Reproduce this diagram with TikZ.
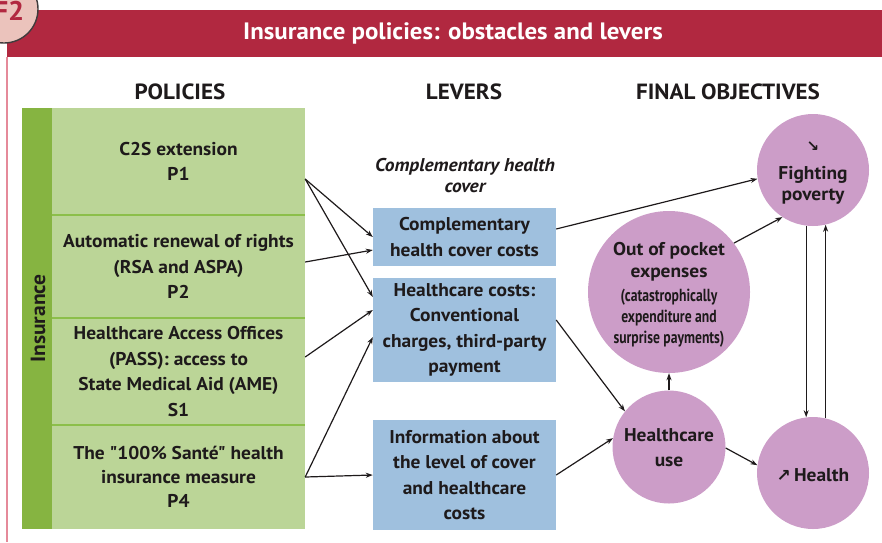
\documentclass[tikz,border=0pt]{standalone}
\usepackage{fontspec}
\setmainfont{PT Sans}[FakeStretch=1.05, Ligatures=TeXOff]
\newfontfamily\symfont{DejaVu Sans}
\newfontfamily\narrowfont{PT Sans}[FakeStretch=0.78, Ligatures=TeXOff]
\usetikzlibrary{arrows.meta,calc}

\definecolor{crimson}{HTML}{B12840}
\definecolor{badgepink}{HTML}{EBC3BC}
\definecolor{edgepink}{HTML}{E58A9A}
\definecolor{darkgreen}{HTML}{86B441}
\definecolor{lightgreen}{HTML}{BBD597}
\definecolor{sepgreen}{HTML}{8CBF4A}
\definecolor{leverblue}{HTML}{9FC0DE}
\definecolor{goalpurple}{HTML}{CC9DC8}
\definecolor{ink}{HTML}{1E1A1B}

\tikzset{
  header/.style={font=\fontsize{22}{24}\selectfont\bfseries, text=ink},
  policy/.style={fill=lightgreen, minimum width=253pt, inner sep=0pt, align=center,
    text=ink, font=\fontsize{18.5}{25.5}\selectfont\bfseries},
  lever/.style={fill=leverblue, minimum width=183pt, inner sep=0pt, align=center,
    text=ink, font=\fontsize{18.5}{25.5}\selectfont\bfseries},
  goal/.style={circle, fill=goalpurple, inner sep=0pt},
  goaltext/.style={align=center, text=ink, inner sep=0pt},
  link/.style={draw=ink, line width=1.2pt, -{Stealth[length=7pt,width=5pt]}},
}

\begin{document}
\begin{tikzpicture}[x=1pt,y=-1pt]
\useasboundingbox (0,0) rectangle (882,542);

% frame: title band and left rule
\fill[crimson] (7,10) rectangle (882,57);
\draw[edgepink, line width=1.4pt] (7,57) -- (7,542);
\node[text=white, font=\fontsize{23.7}{26}\selectfont\bfseries] (title) at (453,33)
  {Insurance policies: obstacles and levers};

% figure badge
\node[circle, fill=badgepink, draw=ink!85, line width=1.4pt, minimum size=68pt,
  inner sep=0pt] (badge) at (4,9) {};
\node[text=crimson, font=\fontsize{27}{29}\selectfont\bfseries] (badgetext) at (9,11) {F2};

% column headers
\node[header] (hpol) at (180,92) {POLICIES};
\node[header] (hlev) at (464,92) {LEVERS};
\node[header] (hobj) at (728,92) {FINAL OBJECTIVES};

% policies column
\node[fill=darkgreen, minimum width=30pt, minimum height=421pt, inner sep=0pt]
  (ins) at (37,318.5) {};
\node[rotate=90, text=ink, font=\fontsize{20.5}{22}\selectfont\bfseries] (instext) at ([xshift=1pt]ins) {Insurance};

\node[policy, minimum height=107pt] (p1) at (178.5,161.5) {C2S extension\\P1};
\node[policy, minimum height=103pt] (p2) at (178.5,266.5)
  {Automatic renewal of rights\\(RSA and ASPA)\\P2};
\node[policy, minimum height=107pt] (s1) at (178.5,371.5)
  {Healthcare Access Offices\\(PASS): access to\\State Medical Aid (AME)\\S1};
\node[policy, minimum height=104pt, font=\fontsize{18.5}{24}\selectfont\bfseries] (p4) at (178.5,477)
  {The "100\% Santé" health\\insurance measure\\P4};
\foreach \a/\b in {p1/p2, p2/s1, s1/p4}
  \draw[sepgreen, line width=2pt] (\a.south west) -- (\a.south east);

% levers column
\node[text=ink, align=center, font=\fontsize{18.5}{21}\selectfont\bfseries\itshape] (chc) at (465,175.5)
  {Complementary health\\cover};
\node[lever, minimum height=58pt] (c1) at (464.5,237) {Complementary\\health cover costs};
\node[lever, minimum height=104pt] (c2) at (464.5,330)
  {Healthcare costs:\\Conventional\\charges, third-party\\payment};
\node[lever, minimum height=110pt] (c3) at (464.5,475)
  {Information about\\the level of cover\\and healthcare\\costs};

% final objectives
\node[goal, minimum size=112pt] (fp) at (813,170) {};
\node[goal, minimum size=162pt] (oop) at (669,292) {};
\node[goal, minimum size=113pt] (hu) at (669,447) {};
\node[goal, minimum size=112pt] (he) at (813,473) {};

\node[goaltext, font=\fontsize{18.5}{21}\selectfont\bfseries] (fpt) at ([yshift=-3pt]fp)
  {{\symfont\fontsize{15}{16}\selectfont ↘}\\[7pt]Fighting\\poverty};
\node[goaltext, font=\fontsize{18.5}{22}\selectfont\bfseries] (oopt) at ([yshift=30pt]oop)
  {Out of pocket\\expenses};
\node[goaltext, font=\narrowfont\fontsize{17.5}{21}\selectfont\bfseries] (oops) at ([yshift=-26pt]oop)
  {(catastrophically\\expenditure and\\surprise payments)};
\node[goaltext, font=\fontsize{18.5}{25}\selectfont\bfseries] (hut) at ([yshift=-1pt]hu) {Healthcare\\use};
\node[goaltext, font=\fontsize{18.5}{21}\selectfont\bfseries] (het) at ([yshift=-2pt]he)
  {{\symfont\fontsize{17}{18}\selectfont ↗}\,Health};

% policies to levers
\draw[link] ([yshift=-17.5pt]p1.east) -- (c1.west);
\draw[link] ([yshift=-17.5pt]p1.east) -- ([yshift=33pt]c2.west);
\draw[link] ([yshift=4.5pt]p2.east) -- ([yshift=-13pt]c1.west);
\draw[link] ([yshift=14.5pt]s1.east) -- ([yshift=20pt]c2.west);
\draw[link] (p4.east) -- ([yshift=-7pt]c2.west);
\draw[link] (p4.east) -- (c3.west);

% levers to objectives
\draw[link] ([yshift=8pt]c1.east) -- (fp.189);
\draw[link] ([yshift=10pt]c2.east) -- (hu.141);
\draw[link] (c3.east) -- (hu.171);
\draw[link] (hu.north) -- (oop.south);
\draw[link] (oop.37) -- (fp.237);
\draw[link] (hu.-1) -- (he.172);
\draw[link] (fp.263) -- (he.97);
\draw[link] (he.77) -- (fp.283);
\end{tikzpicture}
\end{document}
